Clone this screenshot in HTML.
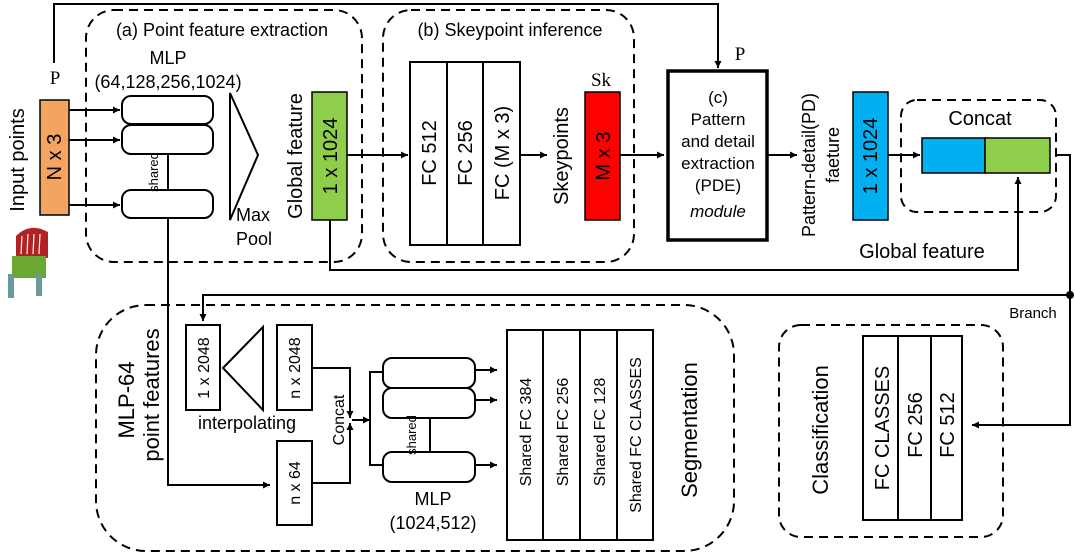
<!DOCTYPE html>
<html><head><meta charset="utf-8"><style>
html,body{margin:0;padding:0;background:#fff}
svg{display:block;font-family:"Liberation Sans",Arial,sans-serif}
</style></head><body>
<svg width="1075" height="554" viewBox="0 0 1075 554" xmlns="http://www.w3.org/2000/svg">
<defs>
<marker id="a" viewBox="0 0 10 10" refX="10" refY="5" markerWidth="7" markerHeight="7" orient="auto" markerUnits="userSpaceOnUse"><path d="M0,0 L10,5 L0,10 z" fill="#000"/></marker>
</defs>
<g fill="none" stroke="#000" stroke-width="2">
<rect x="86" y="10" width="276" height="252" rx="28" stroke-dasharray="9,6"/>
<rect x="383" y="10" width="251" height="252" rx="28" stroke-dasharray="9,6"/>
<rect x="901" y="100" width="155" height="112" rx="16" stroke-dasharray="9,6"/>
<rect x="96" y="305" width="638" height="246" rx="50" stroke-dasharray="9,6"/>
<rect x="779" y="325" width="224" height="212" rx="22" stroke-dasharray="9,6"/>
<polyline points="54,63 54,4 718,4 718,68" marker-end="url(#a)"/>
<line x1="69" y1="110" x2="120" y2="110" marker-end="url(#a)"/>
<line x1="69" y1="140" x2="120" y2="140" marker-end="url(#a)"/>
<line x1="69" y1="205" x2="120" y2="205" marker-end="url(#a)"/>
<rect x="122" y="96" width="91" height="28" rx="9" fill="#fff"/>
<rect x="122" y="125" width="91" height="29" rx="9" fill="#fff"/>
<rect x="122" y="190" width="91" height="28" rx="9" fill="#fff"/>
<line x1="168" y1="154" x2="168" y2="190"/>
<polyline points="168,218 168,485 270,485" marker-end="url(#a)"/>
<polygon points="230,93 258,155 230,220"/>
<line x1="347" y1="155" x2="408" y2="155" marker-end="url(#a)"/>
<polyline points="330,220 330,270 1018,270 1018,177" marker-end="url(#a)"/>
<rect x="410" y="62" width="37" height="183"/>
<rect x="447" y="62" width="36" height="183"/>
<rect x="483" y="62" width="37" height="183"/>
<line x1="520" y1="155" x2="547" y2="155" marker-end="url(#a)"/>
<line x1="620" y1="155" x2="664" y2="155" marker-end="url(#a)"/>
<rect x="668" y="71" width="99" height="169" stroke-width="3.5"/>
<line x1="767" y1="155" x2="797" y2="155" marker-end="url(#a)"/>
<line x1="888" y1="155" x2="920" y2="155" marker-end="url(#a)"/>
<polyline points="1056,155 1070,155 1070,425 972,425" marker-end="url(#a)"/>
<polyline points="1070,295 203,295 203,321" marker-end="url(#a)"/>
<rect x="186" y="325" width="34" height="85"/>
<polygon points="223,368 263,327 263,410"/>
<rect x="277" y="325" width="35" height="85"/>
<rect x="277" y="441" width="35" height="84"/>
<polyline points="312,368 350,368 350,418" marker-end="url(#a)"/>
<polyline points="312,483 350,483 350,423" marker-end="url(#a)"/>
<line x1="352" y1="420" x2="370" y2="420" marker-end="url(#a)"/>
<polyline points="383,372 370,372 370,465 383,465"/>
<rect x="383" y="358" width="92" height="30" rx="9" fill="#fff"/>
<rect x="383" y="388" width="92" height="30" rx="9" fill="#fff"/>
<rect x="383" y="452" width="92" height="30" rx="9" fill="#fff"/>
<line x1="430" y1="418" x2="430" y2="452"/>
<line x1="475" y1="370" x2="497" y2="370" marker-end="url(#a)"/>
<line x1="475" y1="400" x2="497" y2="400" marker-end="url(#a)"/>
<line x1="475" y1="465" x2="497" y2="465" marker-end="url(#a)"/>
<rect x="507" y="330" width="36" height="210"/>
<rect x="543" y="330" width="37" height="210"/>
<rect x="580" y="330" width="37" height="210"/>
<rect x="617" y="330" width="36" height="210"/>
<rect x="863" y="336" width="35" height="184"/>
<rect x="898" y="336" width="33" height="184"/>
<rect x="931" y="336" width="31" height="184"/>
</g>
<circle cx="1070" cy="295" r="4" fill="#000"/>
<rect x="40" y="100" width="29" height="115" fill="#f4a460" stroke="#000" stroke-width="1.5"/>
<rect x="312" y="92" width="35" height="128" fill="#8fce4a" stroke="#000" stroke-width="1.5"/>
<rect x="585" y="92" width="35" height="128" fill="#f00" stroke="#000" stroke-width="1.5"/>
<rect x="853" y="92" width="35" height="128" fill="#00b0f0" stroke="#000" stroke-width="1.5"/>
<rect x="922" y="138" width="63" height="35" fill="#00b0f0" stroke="#000" stroke-width="1.5"/>
<rect x="985" y="138" width="65" height="35" fill="#8fce4a" stroke="#000" stroke-width="1.5"/>
<!-- point cloud -->
<path d="M16,258 L16,236 Q30,222 48,232 L48,258 Z" fill="#b22222"/>
<g stroke="#fff" stroke-width="1.2"><line x1="22" y1="236" x2="21" y2="254"/><line x1="28" y1="234" x2="27" y2="254"/><line x1="34" y1="234" x2="33" y2="254"/><line x1="40" y1="234" x2="39" y2="254"/></g>
<rect x="12" y="256" width="34" height="22" fill="#6aa832"/>
<rect x="8" y="274" width="6" height="24" fill="#6a9a9a"/>
<rect x="36" y="274" width="6" height="22" fill="#6a9a9a"/>
<g font-size="18" fill="#000" text-anchor="middle">
<text x="222" y="36">(a) Point feature extraction</text>
<text x="168" y="64">MLP</text>
<text x="168" y="88">(64,128,256,1024)</text>
<text x="253" y="221">Max</text>
<text x="254" y="245">Pool</text>
<text x="510" y="36">(b) Skeypoint inference</text>
<text x="718" y="103" font-size="17">(c)</text>
<text x="718" y="125" font-size="17">Pattern</text>
<text x="718" y="147" font-size="17">and detail</text>
<text x="718" y="169" font-size="17">extraction</text>
<text x="718" y="191" font-size="17">(PDE)</text>
<text x="718" y="217" font-size="17" font-style="italic">module</text>
<text x="980" y="125" font-size="20">Concat</text>
<text x="922" y="258" font-size="20">Global feature</text>
<text x="247" y="429">interpolating</text>
<text x="433" y="505">MLP</text>
<text x="433" y="529">(1024,512)</text>
<text x="1033" y="318" font-size="15">Branch</text>
<text x="55" y="84" font-family="Liberation Serif" font-size="19">P</text>
<text x="740" y="60" font-family="Liberation Serif" font-size="19">P</text>
<text x="601" y="86" font-family="Liberation Serif" font-size="19">Sk</text>
</g>
<g font-size="20" fill="#000" text-anchor="middle">
<text transform="translate(24,160) rotate(-90)">Input points</text>
<text transform="translate(61,157) rotate(-90)">N x 3</text>
<text transform="translate(302,156) rotate(-90)">Global feature</text>
<text transform="translate(337,156) rotate(-90)">1 x 1024</text>
<text transform="translate(436,153) rotate(-90)">FC  512</text>
<text transform="translate(472,153) rotate(-90)">FC  256</text>
<text transform="translate(509,153) rotate(-90)">FC  (M x 3)</text>
<text transform="translate(568,156) rotate(-90)">Skeypoints</text>
<text transform="translate(610,156) rotate(-90)">M x 3</text>
<text transform="translate(815,165) rotate(-90)" font-size="18">Pattern-detail(PD)</text>
<text transform="translate(839,155) rotate(-90)" font-size="18">faeture</text>
<text transform="translate(877,156) rotate(-90)">1 x 1024</text>
<text transform="translate(134,400) rotate(-90)" font-size="22">MLP-64</text>
<text transform="translate(159,395) rotate(-90)" font-size="22">point features</text>
<text transform="translate(344,420) rotate(-90)" font-size="16">Concat</text>
<text transform="translate(697,430) rotate(-90)" font-size="22">Segmentation</text>
<text transform="translate(828,430) rotate(-90)" font-size="22">Classification</text>
<text transform="translate(889,428) rotate(-90)">FC  CLASSES</text>
<text transform="translate(922,425) rotate(-90)">FC  256</text>
<text transform="translate(954,425) rotate(-90)">FC  512</text>
</g>
<g font-size="16" fill="#000" text-anchor="middle">
<text transform="translate(209,368) rotate(-90)">1 x 2048</text>
<text transform="translate(300,368) rotate(-90)">n x 2048</text>
<text transform="translate(300,483) rotate(-90)">n x 64</text>
<text transform="translate(531,432) rotate(-90)">Shared FC 384</text>
<text transform="translate(568,432) rotate(-90)">Shared FC 256</text>
<text transform="translate(605,432) rotate(-90)">Shared FC 128</text>
<text transform="translate(641,435) rotate(-90)">Shared FC CLASSES</text>
<text transform="translate(416,435) rotate(-90)" font-size="13">shared</text>
<text transform="translate(158,172) rotate(-90)" font-size="13">shared</text>
</g>
</svg>
</body></html>
